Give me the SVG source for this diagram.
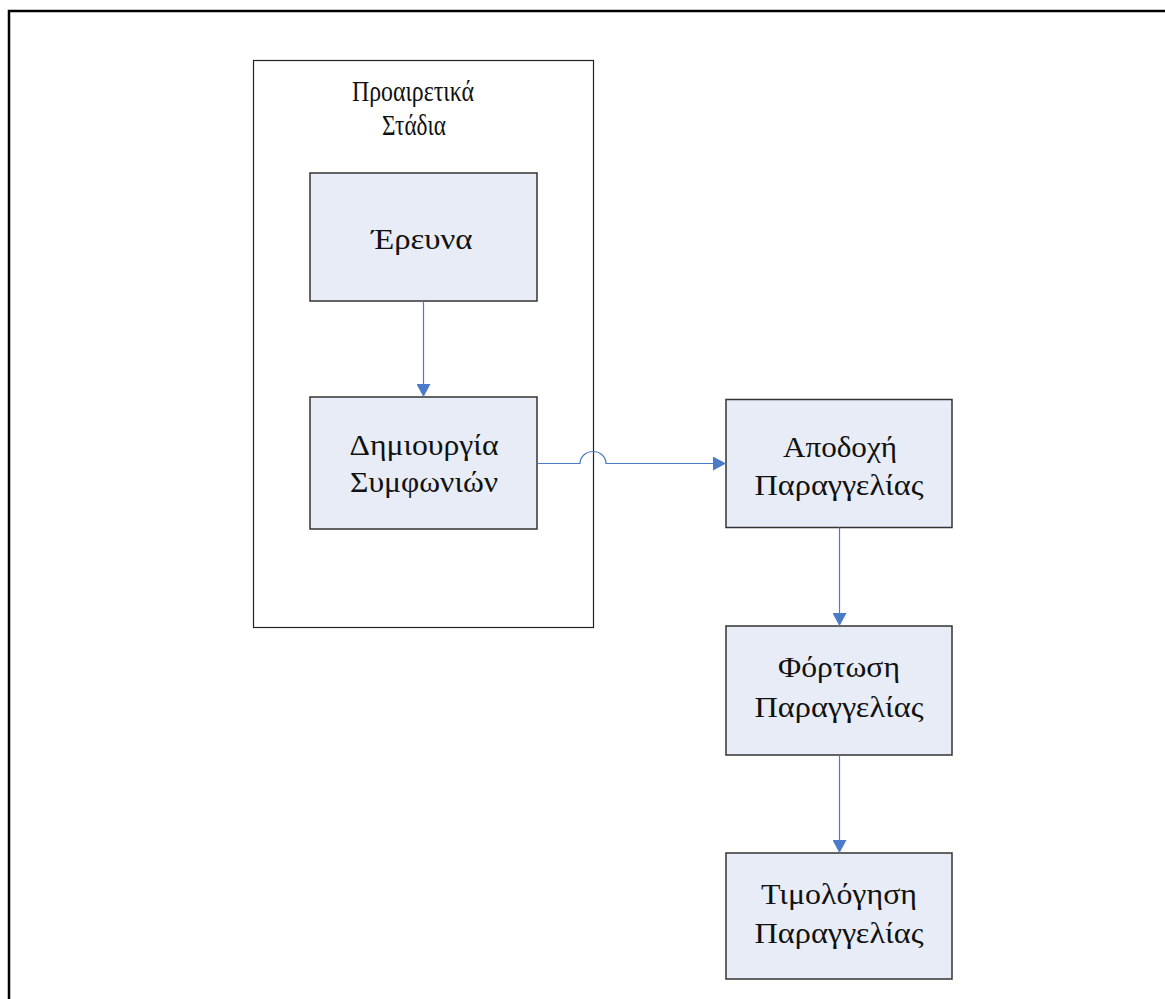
<svg xmlns="http://www.w3.org/2000/svg" width="1165" height="999" viewBox="0 0 1165 999">
  <style>
    .box { fill: #E8ECF6; stroke: #333333; stroke-width: 1.5; }
    .container { fill: #FFFFFF; stroke: #222222; stroke-width: 1.2; }
    .lbl { font-family: "Liberation Serif", "Times New Roman", serif; font-size: 30px; fill: #111111; text-anchor: middle; }
    .conn { fill: none; stroke: #4A7AC8; stroke-width: 1.2; }
  </style>
  <defs>
    <marker id="arrow" markerUnits="userSpaceOnUse" markerWidth="14" markerHeight="14" refX="13" refY="7" orient="auto">
      <path d="M0,0 L13,7 L0,14 Z" fill="#4A7AC8"/>
    </marker>
  </defs>
  <rect x="0" y="0" width="1165" height="999" fill="#FFFFFF"/>
  <rect x="9" y="11" width="1200" height="1100" fill="none" stroke="#000000" stroke-width="2.5"/>

  <g id="container-proairetika">
    <rect class="container" x="253.5" y="60.5" width="340" height="567"/>
    <text class="lbl" x="413" y="101" textLength="122" lengthAdjust="spacingAndGlyphs">Προαιρετικά</text>
    <text class="lbl" x="414" y="135" textLength="64" lengthAdjust="spacingAndGlyphs">Στάδια</text>
  </g>

  <g id="node-erevna">
    <rect class="box" x="310" y="173" width="227" height="128"/>
    <text class="lbl" x="422" y="249" textLength="101" lengthAdjust="spacingAndGlyphs">Έρευνα</text>
  </g>

  <g id="node-dimiourgia">
    <rect class="box" x="310" y="397" width="227" height="132"/>
    <text class="lbl" x="424" y="455" textLength="149" lengthAdjust="spacingAndGlyphs">Δημιουργία</text>
    <text class="lbl" x="424" y="492" textLength="148" lengthAdjust="spacingAndGlyphs">Συμφωνιών</text>
  </g>

  <g id="node-apodochi">
    <rect class="box" x="726" y="399.5" width="226" height="128"/>
    <text class="lbl" x="840" y="457" textLength="114" lengthAdjust="spacingAndGlyphs">Αποδοχή</text>
    <text class="lbl" x="839" y="495" textLength="169" lengthAdjust="spacingAndGlyphs">Παραγγελίας</text>
  </g>

  <g id="node-fortosi">
    <rect class="box" x="726" y="626" width="226" height="129"/>
    <text class="lbl" x="839" y="677" textLength="122" lengthAdjust="spacingAndGlyphs">Φόρτωση</text>
    <text class="lbl" x="839" y="717" textLength="169" lengthAdjust="spacingAndGlyphs">Παραγγελίας</text>
  </g>

  <g id="node-timologisi">
    <rect class="box" x="726" y="853" width="226" height="126"/>
    <text class="lbl" x="839" y="904" textLength="156" lengthAdjust="spacingAndGlyphs">Τιμολόγηση</text>
    <text class="lbl" x="839" y="943" textLength="169" lengthAdjust="spacingAndGlyphs">Παραγγελίας</text>
  </g>

  <g id="connectors">
    <path class="conn" d="M423.5,301 L423.5,397" marker-end="url(#arrow)"/>
    <path class="conn" d="M537,463.5 L580,463.5 A13,12 0 0 1 606,463.5 L726,463.5" marker-end="url(#arrow)"/>
    <path class="conn" d="M839.5,527.5 L839.5,626" marker-end="url(#arrow)"/>
    <path class="conn" d="M839.5,755 L839.5,853" marker-end="url(#arrow)"/>
  </g>
</svg>
